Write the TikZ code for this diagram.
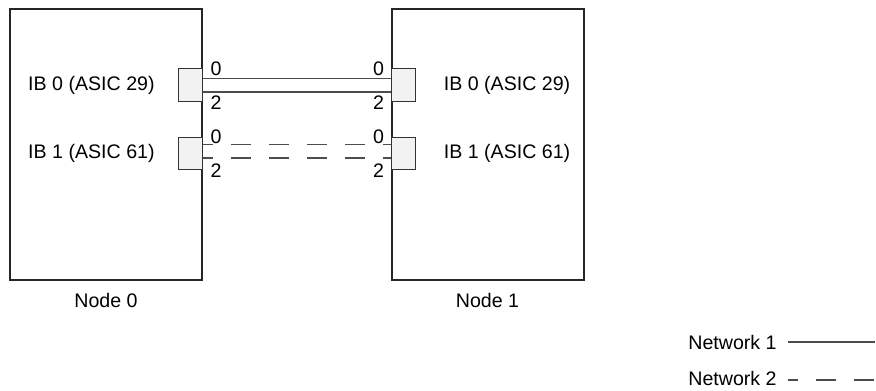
\documentclass[tikz,border=0pt]{standalone}
\usepackage{fontspec}
\setmainfont{Liberation Sans}
\usepackage{tikz}
\usetikzlibrary{positioning, calc}
\tikzset{
    hostbox/.style={draw=black!85, line width=1pt, minimum width=96pt, minimum height=135.5pt, inner sep=0pt},
    port/.style={draw=black!80, line width=0.5pt, fill=black!5, minimum width=12pt, minimum height=16pt, inner sep=0pt},
    portnum/.style={inner sep=0pt, font=\fontsize{9.8}{12}\selectfont},
    txt/.style={inner sep=0pt, font=\fontsize{9.8}{12}\selectfont},
    net one/.style={draw=black!70, line width=0.6pt},
    net two/.style={draw=black!70, line width=0.6pt, dash pattern=on 10pt off 9pt, dash phase=5pt},
}

\begin{document}
\begin{tikzpicture}[x=0.5pt, y=-0.5pt]
    \useasboundingbox (0,0) rectangle (876,390);

    % the two hosts
    \node[hostbox] (n0) at (106,144.5) {};
    \node[hostbox] (n1) at (487.5,144.5) {};

    \node[txt, below=6pt of n0] (n0lbl) {Node 0};
    \node[txt, below=6pt of n1] (n1lbl) {Node 1};

    % adapters
    \node[port, anchor=east] (p00) at (n0.east |- 0,85) {};
    \node[port, anchor=east] (p01) at (n0.east |- 0,153) {};
    \node[port, anchor=west] (p10) at (n1.west |- 0,85) {};
    \node[port, anchor=west] (p11) at (n1.west |- 0,153) {};

    \node[txt, left=11.5pt of p00] (ib00) {IB 0 (ASIC 29)};
    \node[txt, left=11.5pt of p01] (ib01) {IB 1 (ASIC 61)};
    \node[txt, right=14pt of p10] (ib10) {IB 0 (ASIC 29)};
    \node[txt, right=14pt of p11] (ib11) {IB 1 (ASIC 61)};

    % port numbers
    \node[portnum] (a00) at ($(p00.east)+(13,-16)$) {0};
    \node[portnum] (a02) at ($(p00.east)+(13,18)$) {2};
    \node[portnum] (a10) at ($(p01.east)+(13,-16)$) {0};
    \node[portnum] (a12) at ($(p01.east)+(13,18)$) {2};
    \node[portnum] (b00) at ($(p10.west)+(-12,-16)$) {0};
    \node[portnum] (b02) at ($(p10.west)+(-12,18)$) {2};
    \node[portnum] (b10) at ($(p11.west)+(-12,-16)$) {0};
    \node[portnum] (b12) at ($(p11.west)+(-12,18)$) {2};

    % cables
    \draw[net one] ($(p00.east)+(0,-6.5)$) -- ($(p10.west)+(0,-6.5)$);
    \draw[net one] ($(p00.east)+(0,7)$) -- ($(p10.west)+(0,7)$);
    \draw[net two] ($(p01.east)+(0,-8.5)$) -- ($(p11.west)+(0,-8.5)$);
    \draw[net two] ($(p01.east)+(0,5)$) -- ($(p11.west)+(0,5)$);

    % legend
    \node[txt, anchor=east] (leg1) at (777,342) {Network 1};
    \node[txt, anchor=east] (leg2) at (777,378) {Network 2};
    \coordinate (leg1end) at (875,342);
    \coordinate (leg2end) at (874,380);
    \draw[net one] ([xshift=5.5pt]leg1.east) -- (leg1end);
    \draw[net two] ([xshift=5.5pt,yshift=-1pt]leg2.east) -- (leg2end);
\end{tikzpicture}
\end{document}
